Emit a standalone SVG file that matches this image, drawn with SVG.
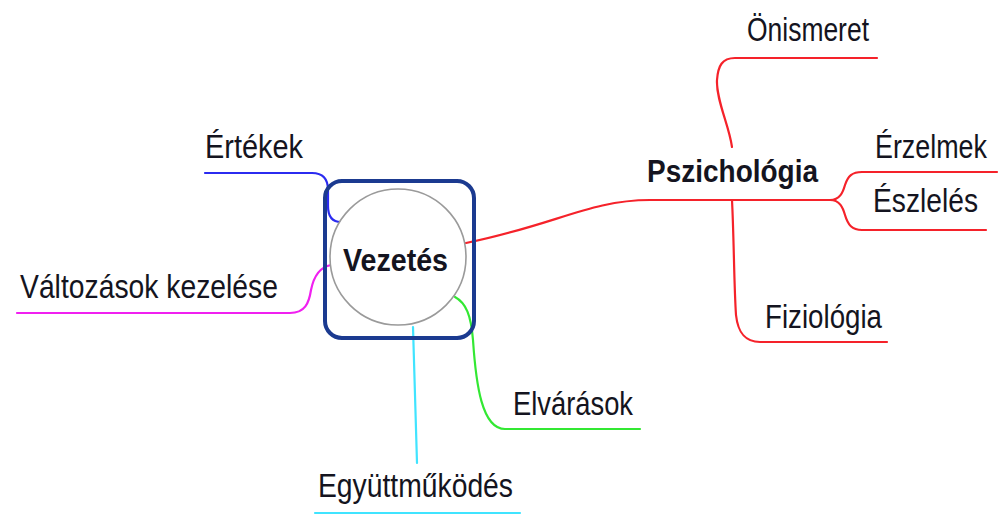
<svg xmlns="http://www.w3.org/2000/svg" width="999" height="515" viewBox="0 0 999 515">
<style>
text{font-family:"Liberation Sans",Arial,sans-serif;font-size:33px;fill:#141420}
.b{font-weight:bold;font-size:32px}
.c{fill:none;stroke-width:2.2;stroke-linecap:round;stroke-linejoin:round}
.red{stroke:#f5222a}
</style>
<rect width="999" height="515" fill="#fff"/>
<g id="connectors">
<path class="c" stroke="#2b2bf0" d="M205,173 L312,173 C322,173 328,178 328,190 L328,206 C328,216 332,222 341,222"/>
<path class="c" stroke="#f020f0" d="M17,313 L290,313 C305,313 309,303 311,290 C314,275 320,267 331,265"/>
<path class="c" stroke="#40e4ff" stroke-width="1.8" d="M413,327 L417,463"/>
<path class="c" stroke="#40e4ff" d="M315,513 L520,513"/>
<path class="c" stroke="#33e833" d="M455,297 C466,303 471,315 473,340 C476,385 482,429 505,429 L640,429"/>
<path class="c red" d="M466,243 C555,225 590,200 650,200 L830,200"/>
<path class="c red" d="M830,200 C840,200 843,192 845,185 C848,176 852,172 862,172 L997,172"/>
<path class="c red" d="M830,200 C840,200 843,208 845,215 C848,225 852,230 862,230 L986,230"/>
<path class="c red" d="M732,147 C729,125 716,100 717,80 C718,66 722,58 735,58 L877,58"/>
<path class="c red" d="M732,200 C734,240 734,285 736,315 C738,333 745,342 760,342 L887,342"/>
</g>
<g id="vezetes">
<rect x="325" y="181" width="149" height="157" rx="17" fill="none" stroke="#1b3a90" stroke-width="4"/>
<circle cx="398" cy="257" r="68" fill="#fff" stroke="#9a9a9a" stroke-width="1.6"/>
<text class="b" x="343" y="271" textLength="105" lengthAdjust="spacingAndGlyphs">Vezetés</text>
</g>
<g id="pszichologia"><text class="b" x="647" y="182" textLength="171" lengthAdjust="spacingAndGlyphs">Pszichológia</text></g>
<g id="onismeret"><text x="747" y="41" textLength="122" lengthAdjust="spacingAndGlyphs">Önismeret</text></g>
<g id="erzelmek"><text x="875" y="158" textLength="112" lengthAdjust="spacingAndGlyphs">Érzelmek</text></g>
<g id="eszleles"><text x="873" y="212" textLength="105" lengthAdjust="spacingAndGlyphs">Észlelés</text></g>
<g id="fiziologia"><text x="765" y="328" textLength="117" lengthAdjust="spacingAndGlyphs">Fiziológia</text></g>
<g id="ertekek"><text x="205" y="158" textLength="98" lengthAdjust="spacingAndGlyphs">Értékek</text></g>
<g id="valtozasok"><text x="20" y="298" textLength="258" lengthAdjust="spacingAndGlyphs">Változások kezelése</text></g>
<g id="elvarasok"><text x="513" y="415" textLength="120" lengthAdjust="spacingAndGlyphs">Elvárások</text></g>
<g id="egyuttmukodes"><text x="318" y="497" textLength="195" lengthAdjust="spacingAndGlyphs">Együttműködés</text></g>
</svg>
